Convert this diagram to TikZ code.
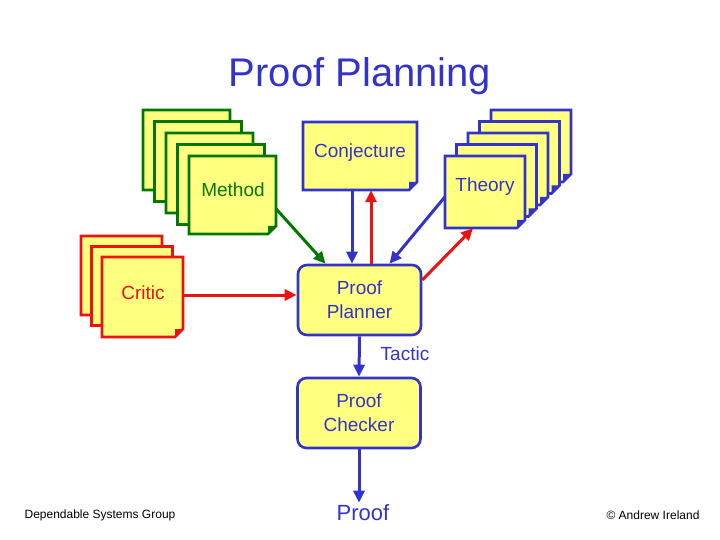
\documentclass[tikz,border=0pt]{standalone}
\usepackage{fontspec}
\setmainfont{Liberation Sans}
\usetikzlibrary{arrows.meta}
\definecolor{yel}{RGB}{255,255,128}
\definecolor{bl}{RGB}{51,51,204}
\definecolor{gr}{RGB}{0,120,0}
\definecolor{rd}{RGB}{238,17,17}
\tikzset{
 box/.style={rectangle,draw=none,inner sep=0pt},
 lab/.style={font=\fontsize{19}{23}\selectfont},
 cardline/.style={line width=2.6pt,line join=miter,fill=yel},
 arr/.style={line width=3pt,-{Triangle[length=12pt,width=11pt]}},
 rbox/.style={rectangle,rounded corners=9pt,draw=bl,line width=2.6pt,fill=yel,minimum width=123pt,minimum height=70pt,align=center,font=\fontsize{19}{24}\selectfont}
}
\newcommand\cardat[5]{% x1 y1 x2 y2 color
 \draw[cardline,draw=#5] (#1,#2) -- (#3,#2) -- (#3,{#4-8}) -- ({#3-8},#4) -- (#1,#4) -- cycle;
 \fill[#5] (#3,{#4-8}) -- ({#3-8},#4) -- ({#3-8},{#4-8}) -- cycle;
}
\begin{document}
\begin{tikzpicture}[x=1pt,y=-1pt]
\useasboundingbox (0,0) rectangle (720,540);
\node[font=\fontsize{40}{44}\selectfont,text=bl] (title) at (360,76) {Proof Planning};
% Method stack
\foreach \i in {0,...,3}{\cardat{143+11.5*\i}{110+11.5*\i}{230+11.5*\i}{190+11.5*\i}{gr}}
\cardat{189}{156}{276}{234}{gr}
\node[box,minimum width=87pt,minimum height=78pt] (m) at (232.5,195) {};
\node[lab,text=gr] (mt) at (233,190) {Method};
% Theory stack
\foreach \i in {0,...,3}{\cardat{491-11.5*\i}{110+11.5*\i}{571-11.5*\i}{182+11.5*\i}{bl}}
\cardat{445}{156}{525}{228}{bl}
\node[box,minimum width=80pt,minimum height=72pt] (t) at (485,192) {};
\node[lab,text=bl] (tt) at (485,187) {Theory};
% Conjecture
\cardat{303}{122}{417}{190}{bl}
\node[box,minimum width=114pt,minimum height=68pt] (c) at (360,156) {};
\node[lab,text=bl] (ct) at (360,153) {Conjecture};
% Critic stack
\foreach \i in {0,1}{\cardat{81+10.5*\i}{236+10.5*\i}{162+10.5*\i}{315+10.5*\i}{rd}}
\cardat{102}{257}{183}{337}{rd}
\node[box,minimum width=81pt,minimum height=80pt] (cr) at (142.5,297) {};
\node[lab,text=rd] (crt) at (143,293) {Critic};
% Planner / Checker
\node[rbox,text=bl] (pp) at (359.5,300) {Proof\\Planner};
\node[rbox,text=bl] (pc) at (359,413) {Proof\\Checker};
\node[lab,text=bl] (tac) at (405,354) {Tactic};
\node[font=\fontsize{22}{26}\selectfont,text=bl,inner sep=2pt] (pr) at (363,513) {Proof};
% arrows
\draw[arr,draw=gr] ([yshift=-14pt]m.east) -- ([xshift=-34pt]pp.north);
\draw[arr,draw=bl] ([xshift=-8pt]c.south) -- ([xshift=-7.5pt]pp.north);
\draw[arr,draw=rd] ([xshift=11.5pt]pp.north) -- ([xshift=11pt]c.south);
\draw[arr,draw=bl] ([yshift=-5pt]t.west) -- ([xshift=30pt]pp.north);
\draw[arr,draw=rd] ([yshift=20pt]pp.east) -- ([xshift=-12pt]t.south);
\draw[arr,draw=rd] ([yshift=2pt]cr.east) -- ([yshift=5pt]pp.west);
\draw[arr,draw=bl] (pp.south) -- (pc.north);
\draw[arr,draw=bl] (pc.south) -- (pc.south |- pr.north);
\node[font=\fontsize{12}{14}\selectfont] (dsg) at (100,515) {Dependable Systems Group};
\node[font=\fontsize{12}{14}\selectfont] (ai) at (653,515) {\textcopyright\ Andrew Ireland};
\end{tikzpicture}
\end{document}
